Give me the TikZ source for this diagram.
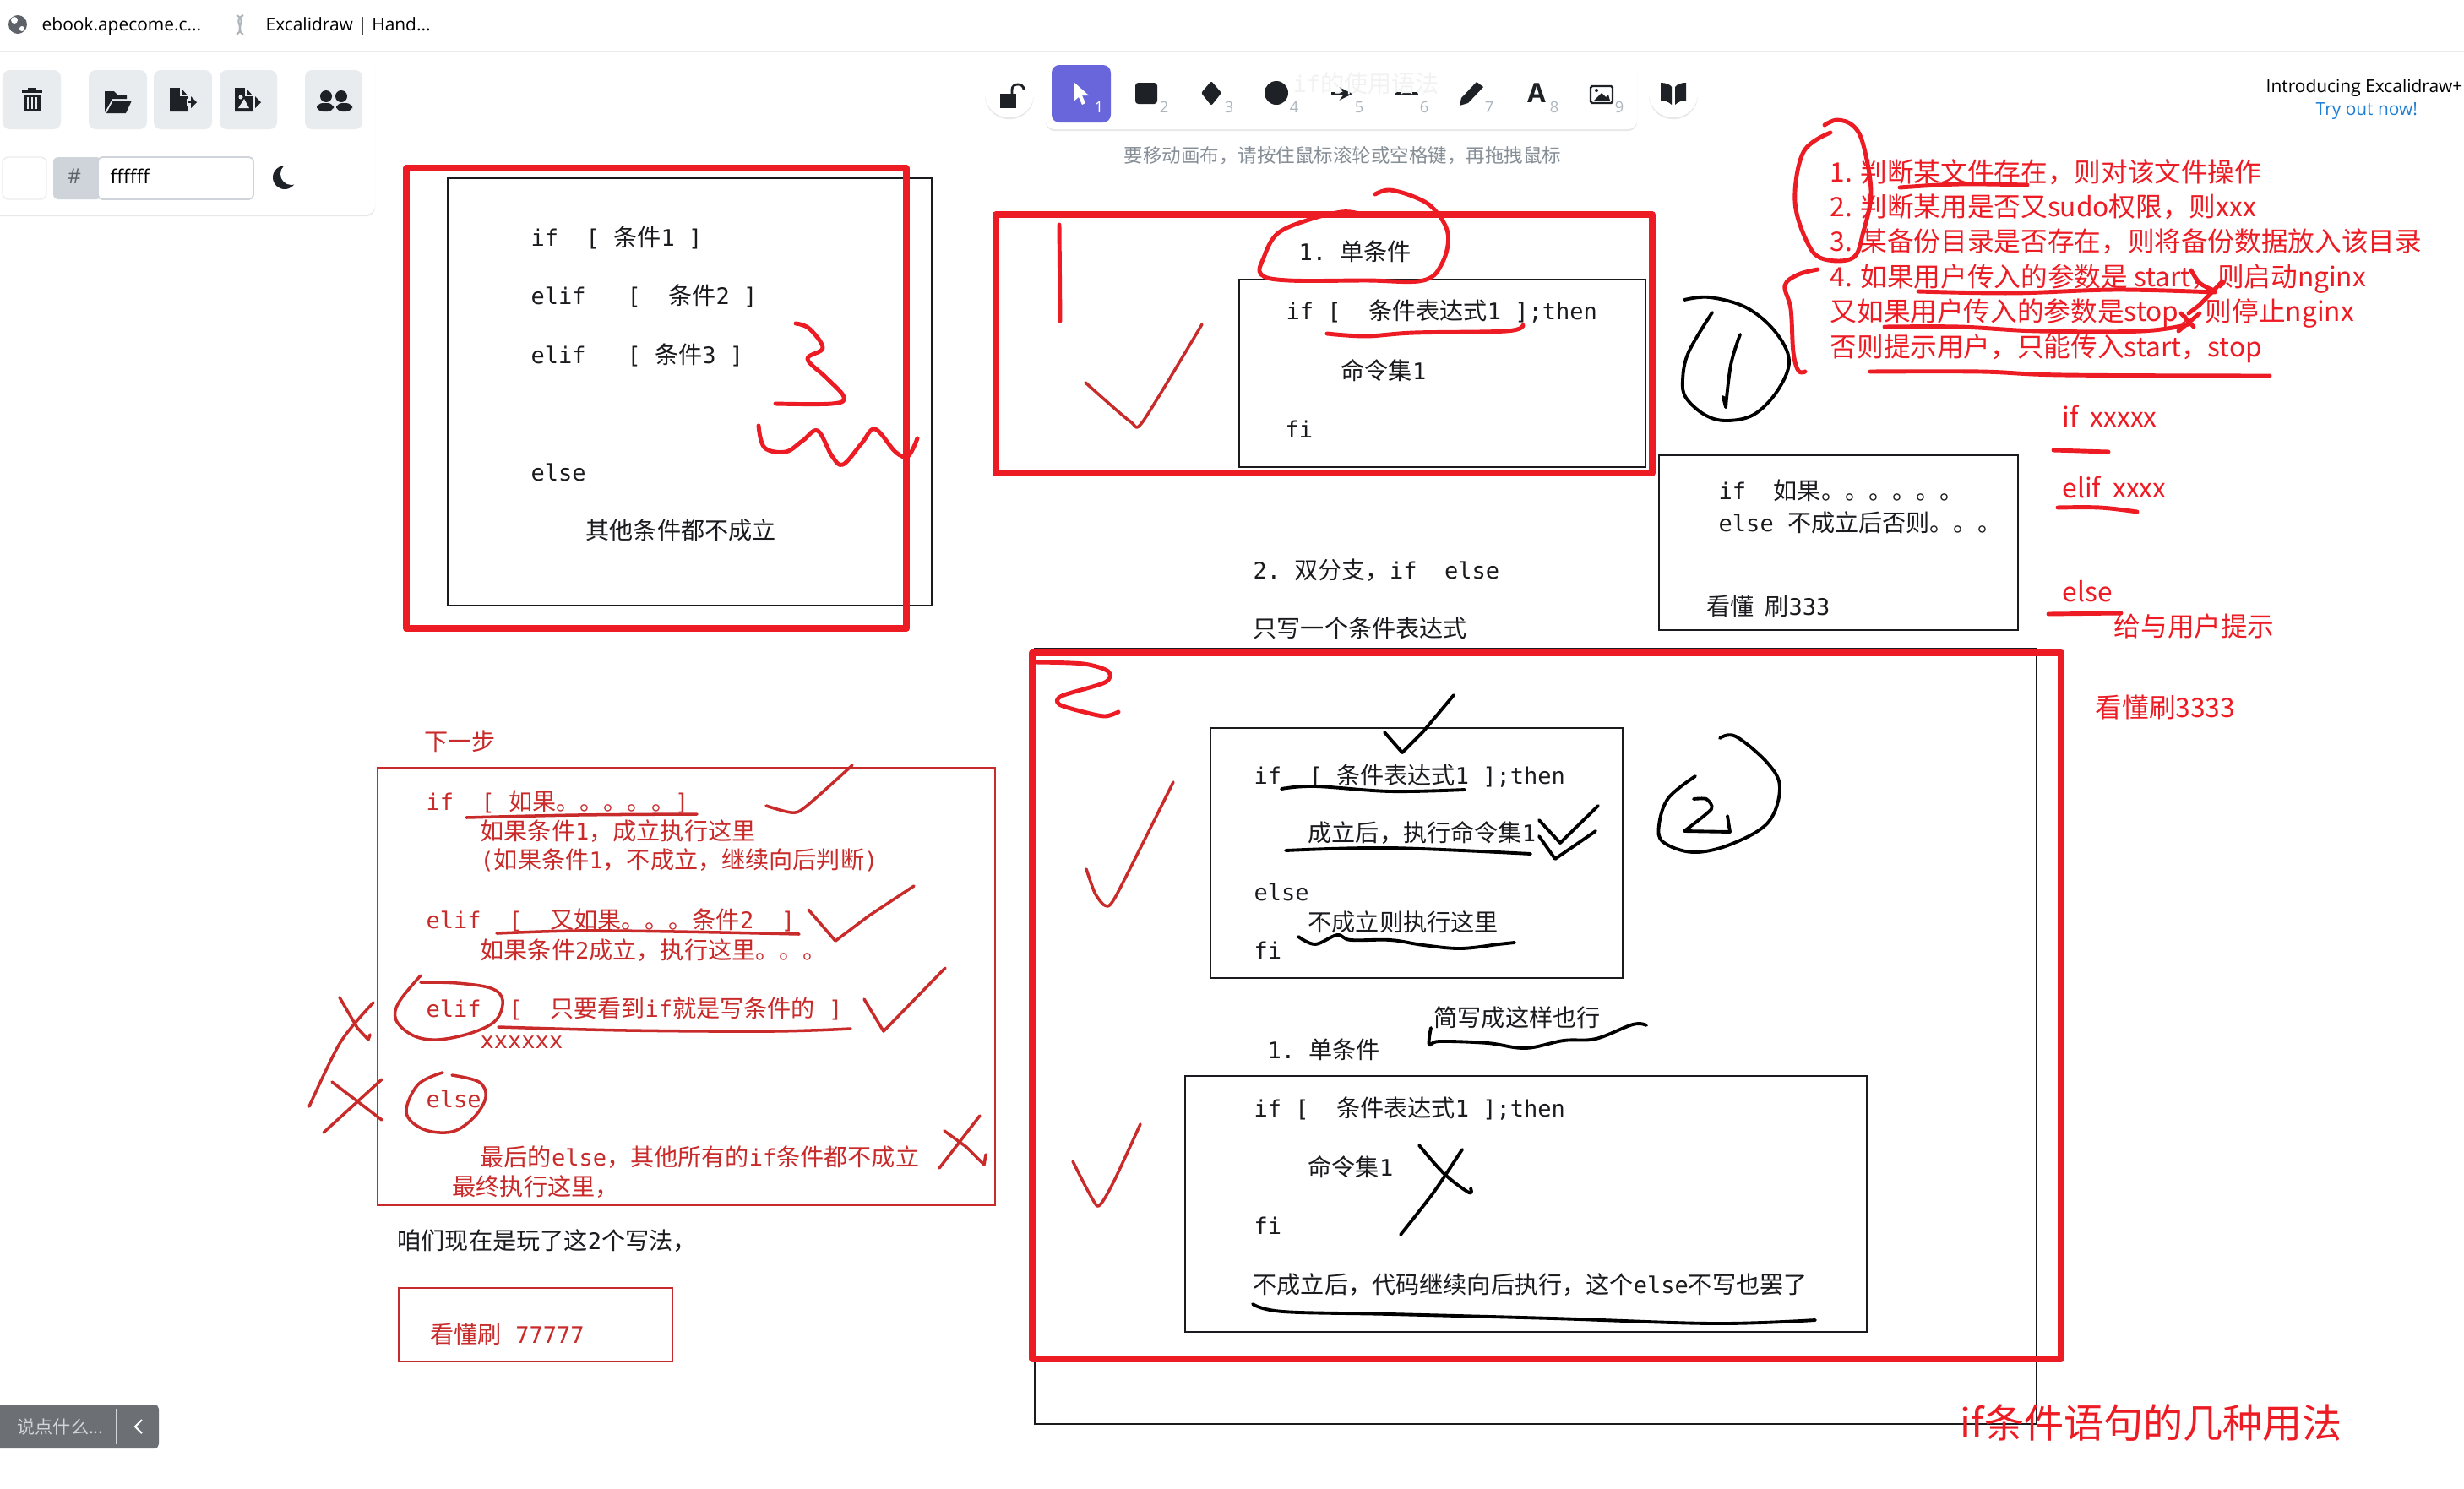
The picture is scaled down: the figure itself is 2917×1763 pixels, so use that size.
\documentclass[tikz,border=0pt]{standalone}
\usepackage{fontspec}
\setmainfont[Scale=0.96]{DejaVu Sans Mono}
\newfontfamily\cnfont{Noto Sans CJK SC}
\newfontfamily\uifont{Open Sans}
\newcommand{\cn}[1]{{\cnfont #1}}
\usetikzlibrary{shadows}
\definecolor{penred}{HTML}{ED1C24}
\definecolor{inkred}{HTML}{C92A2A}
\definecolor{inkdark}{HTML}{1B1B1F}
\definecolor{iconblack}{HTML}{1E2125}
\definecolor{toolgray}{HTML}{E9ECEF}
\definecolor{hashgray}{HTML}{CED4DA}
\definecolor{hintgray}{HTML}{868E96}
\definecolor{keygray}{HTML}{ADB5BD}
\definecolor{toolpurple}{HTML}{6965DB}
\definecolor{linkblue}{HTML}{1C7ED6}
\definecolor{chatgray}{HTML}{6C7075}
\tikzset{
  txt/.style={anchor=west,inner sep=0pt,text height=.68em,text depth=.05em,text=inkdark,font=\fontsize{8}{10}\selectfont},
  redtxt/.style={txt,text=inkred},
  listtxt/.style={anchor=west,inner sep=0pt,text height=.72em,text depth=.05em,text=penred,font=\fontsize{9}{11}\selectfont\cnfont},
  uitxt/.style={anchor=west,inner sep=0pt,text height=.62em,text depth=.2em,font=\fontsize{5.95}{7}\selectfont\uifont},
  keytxt/.style={inner sep=0pt,text=keygray,font=\fontsize{5.2}{6}\selectfont\uifont},
  bigbox/.style={draw=penred,line width=2.3pt,line join=round},
  sketchbox/.style={draw=inkdark,line width=.55pt},
  redbox/.style={draw=inkred,line width=.5pt},
  redpen/.style={draw=penred,line width=1.4pt,line cap=round,line join=round},
  redthin/.style={draw=inkred,line width=1pt,line cap=round,line join=round},
  blackpen/.style={draw=black,line width=1.1pt,line cap=round,line join=round},
  toolbtn/.style={fill=toolgray,rounded corners=2.4pt},
  panel/.style={fill=white,rounded corners=3pt,drop shadow={opacity=.18,shadow xshift=0pt,shadow yshift=-.6pt}},
  icon/.style={fill=iconblack,draw=none}
}
\begin{document}
\begin{tikzpicture}[x=0.01cm,y=-0.01cm]
    \useasboundingbox (0,0) rectangle (2917,1763);
    \fill[white] (0,0) rectangle (2917,1763);
    % Tab bar
    \draw[toolgray,line width=.7pt] (0,61) -- (2917,61);
    \fill[hintgray!70!black] (21,29) circle[radius=11];
    \fill[white] (17,24) circle[radius=4];
    \fill[white] (26,34) circle[radius=3];
    \node[uitxt] (tabone) at (49,29) {ebook.apecome.c...};
    \draw[keygray,line width=.6pt] (280,18) .. controls (294,26) and (276,32) .. (288,41);
    \draw[keygray,line width=.6pt] (288,18) .. controls (274,26) and (292,32) .. (280,41);
    \node[uitxt] (tabtwo) at (314,29) {Excalidraw | Hand...};
    % Left panel
    \path[panel] (-12,69) rectangle (444,254);
    \path[toolbtn] (3,83) rectangle (72,153);
    \path[toolbtn] (105,83) rectangle (174,153);
    \path[toolbtn] (182,83) rectangle (251,153);
    \path[toolbtn] (260,83) rectangle (328,153);
    \path[toolbtn] (361,83) rectangle (429,153);
    % Trash
    \path[icon] (26,106) rectangle (50,110);
    \path[icon] (33,104) rectangle (43,108);
    \path[icon] (28,112) rectangle (48,132);
    \draw[toolgray,line width=.3pt] (33,115) -- (33,129) (38,115) -- (38,129) (43,115) -- (43,129);
    % Folder
    \path[icon] (124,133) -- (124,108) -- (135,108) -- (139,112) -- (150,112) -- (150,117) -- (133,117) -- cycle;
    \path[icon] (126,134) -- (134,119) -- (156,119) -- (149,134) -- cycle;
    % Export
    \path[icon] (201,104) -- (214,104) -- (222,113) -- (222,132) -- (201,132) -- cycle;
    \draw[toolgray,line width=.4pt] (214,104) -- (214,113) -- (222,113);
    \draw[icon,draw=iconblack,line width=.7pt] (212,121) -- (228,121);
    \path[icon] (226,114) -- (233,121) -- (226,128) -- cycle;
    \draw[toolgray,line width=.4pt] (222,117) -- (222,125);
    % Export image
    \path[icon] (278,104) -- (291,104) -- (299,113) -- (299,132) -- (278,132) -- cycle;
    \draw[toolgray,line width=.4pt] (291,104) -- (291,113) -- (299,113);
    \fill[toolgray] (282,128) -- (289,117) -- (295,128) -- cycle;
    \fill[toolgray] (285,115) circle[radius=2.5];
    \path[icon] (302,114) -- (309,121) -- (302,128) -- cycle;
    % Users
    \path[icon] (386,114) circle[radius=7];
    \path[icon] (404,114) circle[radius=7];
    \path[icon,rounded corners=2pt] (375,132) rectangle (395,122);
    \path[icon,rounded corners=2pt] (398,132) rectangle (417,122);
    % Colour picker
    \draw[toolgray,fill=white,rounded corners=2pt,line width=.4pt] (3,186) rectangle (55,236);
    \path[fill=hashgray,rounded corners=1.5pt] (63,186) rectangle (120,236);
    \draw[hashgray,fill=white,rounded corners=1.5pt,line width=.5pt] (116,186) rectangle (300,236);
    \node[uitxt,text=hintgray!70!black,anchor=center,font=\fontsize{7}{8}\selectfont\uifont] (hash) at (88,210) {\#};
    \node[uitxt,font=\fontsize{6.5}{8}\selectfont\uifont] (hexval) at (130,210) {ffffff};
    \fill[iconblack] (337,210) circle[radius=14];
    \fill[white] (345,206) circle[radius=13];
    % Lock and toolbar
    \path[panel,rounded corners=8pt] (1166,81) rectangle (1224,139);
    \path[icon] (1184,111) rectangle (1203,128);
    \draw[iconblack,line width=.8pt] (1198,112) -- (1198,106) .. controls (1198,98) and (1212,98) .. (1212,106);
    \path[panel] (1238,69) rectangle (1938,153);
    \path[fill=toolpurple,rounded corners=2.6pt] (1245,77) rectangle (1315,145);
    \fill[white] (1271,97) -- (1271,120) -- (1277,115) -- (1281,124) -- (1285,122) -- (1281,113) -- (1289,113) -- cycle;
    \node[inner sep=0pt,text=white,font=\fontsize{5.2}{6}\selectfont\uifont] (keyone) at (1301,127) {1};
    \path[icon,rounded corners=1pt] (1344,98) rectangle (1370,123);
    \node[keytxt] (keytwo) at (1378,127) {2};
    \path[icon,rounded corners=.6pt] (1434,96) -- (1446,110) -- (1434,125) -- (1422,110) -- cycle;
    \node[keytxt] (keythree) at (1455,127) {3};
    \path[icon] (1511,110) circle[radius=14];
    \node[keytxt] (keyfour) at (1532,127) {4};
    \draw[iconblack,line width=.9pt,-stealth] (1576,111) -- (1601,111);
    \node[keytxt] (keyfive) at (1609,127) {5};
    \draw[iconblack,line width=1.1pt] (1651,111) -- (1679,111);
    \node[keytxt] (keysix) at (1686,127) {6};
    \path[icon] (1728,125) -- (1730,116) -- (1748,97) -- (1756,103) -- (1738,122) -- cycle;
    \node[keytxt] (keyseven) at (1763,127) {7};
    \node[inner sep=0pt,text=iconblack,font=\fontsize{9}{10}\selectfont\uifont\bfseries] (keyA) at (1819,110) {A};
    \node[keytxt] (keyeight) at (1840,127) {8};
    \draw[iconblack,line width=.7pt,rounded corners=.5pt] (1883,102) rectangle (1909,122);
    \fill[iconblack] (1887,119) -- (1896,110) -- (1901,115) -- (1904,112) -- (1906,119) -- cycle;
    \fill[iconblack] (1890,107) circle[radius=2];
    \node[keytxt] (keynine) at (1917,127) {9};
    \path[panel,rounded corners=8pt] (1952,81) rectangle (2010,139);
    \path[icon] (1966,98) .. controls (1972,98) and (1977,100) .. (1979,103) -- (1979,124) .. controls (1975,120) and (1970,119) .. (1966,119) -- cycle;
    \path[icon] (1996,98) .. controls (1990,98) and (1985,100) .. (1983,103) -- (1983,124) .. controls (1987,120) and (1992,119) .. (1996,119) -- cycle;
    \node[anchor=west,inner sep=0pt,text=black!5,font=\fontsize{8}{10}\selectfont] (ghost) at (1530,99) {if\cn{的使用语法}};
    \node[anchor=west,inner sep=0pt,text=hintgray,font=\fontsize{6.4}{8}\selectfont\cnfont] (hint) at (1330,184) {要移动画布，请按住鼠标滚轮或空格键，再拖拽鼠标};
    \node[uitxt] (introline) at (2682,102) {Introducing Excalidraw+};
    \node[uitxt,text=linkblue] (tryline) at (2741,129) {Try out now!};
    % Box three (upper left)
    \draw[sketchbox] (530,211) rectangle (1103,717);
    \node[txt] (threeif) at (628,281) {if~~[~\cn{条件}1~]};
    \node[txt] (threeelif) at (628,350) {elif~~~[~~\cn{条件}2~]};
    \node[txt] (threeelifb) at (628,420) {elif~~~[~\cn{条件}3~]};
    \node[txt] (threeelse) at (628,559) {else};
    \node[txt] (threerest) at (693,628) {\cn{其他条件都不成立}};
    \draw[bigbox] (481,199) rectangle (1073,744);
    \draw[redpen] plot[smooth,tension=.6] coordinates {(942,383) (958,389) (974,412) (956,425) (978,447) (999,470) (985,478) (918,478)};
    \draw[redpen] plot[smooth,tension=.6] coordinates {(898,504) (905,530) (930,535) (950,522) (968,510) (985,540) (998,550) (1020,525) (1036,508) (1060,535) (1075,540) (1086,519)};
    % Box one (single branch)
    \draw[sketchbox] (1467,331) rectangle (1948,553);
    \node[txt] (oneis) at (1537,298) {1.~\cn{单条件}};
    \node[txt] (oneif) at (1522,368) {if~[~~\cn{条件表达式}1~];then};
    \node[txt] (onecmd) at (1587,439) {\cn{命令集}1};
    \node[txt] (onefi) at (1521,508) {fi};
    \draw[bigbox] (1179,254) rectangle (1956,560);
    \draw[redpen] plot[smooth,tension=.6] coordinates {(1628,230) (1645,225) (1674,233) (1697,247) (1714,276) (1708,310) (1685,332) (1617,332) (1525,332) (1493,325) (1496,305) (1513,276) (1553,259) (1588,251) (1605,252)};
    \draw[redpen] plot[smooth,tension=.6] coordinates {(1571,395) (1617,398) (1674,394) (1783,392) (1803,385)};
    \draw[redpen] (1254,266) -- (1255,380);
    \draw[redthin] plot[smooth,tension=.4] coordinates {(1285,453) (1338,499) (1353,499) (1423,384)};
    % Two-branch notes
    \node[txt] (twois) at (1483,675) {2.~\cn{双分支，}if~~else};
    \node[txt] (twoone) at (1483,744) {\cn{只写一个条件表达式}};
    % Red list
    \node[listtxt] (lineone) at (2166,204) {1. 判断某文件存在，则对该文件操作};
    \node[listtxt] (linetwo) at (2166,245) {2. 判断某用是否又sudo权限，则xxx};
    \node[listtxt] (linethree) at (2166,286) {3. 某备份目录是否存在，则将备份数据放入该目录};
    \node[listtxt] (linefour) at (2166,328) {4. 如果用户传入的参数是 start，则启动nginx};
    \node[listtxt] (linefive) at (2166,369) {又如果用户传入的参数是stop，则停止nginx};
    \node[listtxt] (linesix) at (2166,411) {否则提示用户，只能传入start，stop};
    \draw[redpen] plot[smooth,tension=.6] coordinates {(2167,157) (2135,180) (2125,239) (2141,290) (2160,307) (2194,305) (2206,274) (2215,228) (2206,172) (2194,149) (2175,142) (2160,148)};
    \draw[redpen] plot[smooth,tension=.6] coordinates {(2249,222) (2320,218) (2400,219)};
    \draw[redpen] plot[smooth,tension=.6] coordinates {(2152,319) (2129,325) (2113,338) (2120,366) (2123,417) (2129,439) (2137,440)};
    \draw[redpen] plot[smooth,tension=.6] coordinates {(2271,345) (2382,347) (2505,343) (2622,346)};
    \draw[redpen] plot[smooth,tension=.6] coordinates {(2594,320) (2604,335) (2619,343)};
    \draw[redpen] (2631,333) -- (2604,361) -- (2591,371);
    \draw[redpen] plot[smooth,tension=.6] coordinates {(2231,387) (2320,387) (2413,392) (2536,392) (2591,384)};
    \draw[redpen] (2582,371) -- (2597,387);
    \draw[redpen] (2604,371) -- (2579,392);
    \draw[redpen] plot[smooth,tension=.6] coordinates {(2214,440) (2345,440) (2443,444) (2687,445)};
    % Hand-drawn one
    \draw[blackpen] plot[smooth,tension=.6] coordinates {(1994,355) (2024,352) (2067,364) (2101,392) (2118,427) (2104,463) (2076,491) (2043,498) (2018,491) (1996,471) (1992,450) (1999,417) (2027,370)};
    \draw[blackpen] plot[smooth,tension=.6] coordinates {(2060,396) (2049,432) (2043,482)};
    \draw[blackpen] (2043,482) -- (2040,470);
    % Short note box
    \draw[sketchbox] (1964,539) rectangle (2389,746);
    \node[txt] (noteif) at (2034,581) {if~~\cn{如果。。。。。。}};
    \node[txt] (noteelse) at (2034,619) {else~\cn{不成立后否则。。。}};
    \node[txt] (notedrill) at (2020,718) {\cn{看懂~~刷}333};
    % Red keywords
    \node[listtxt] (kwif) at (2441,494) {if~~xxxxx};
    \draw[redpen] (2431,533) -- (2496,535);
    \node[listtxt] (kwelif) at (2441,578) {elif~~xxxx};
    \draw[redpen] plot[smooth,tension=.6] coordinates {(2436,601) (2486,601) (2530,606)};
    \node[listtxt] (kwelse) at (2441,701) {else};
    \draw[redpen] (2425,727) -- (2511,726);
    \node[listtxt] (kwhint) at (2502,742) {给与用户提示};
    \node[listtxt] (kwdrill) at (2480,838) {看懂刷3333};
    % Outer frame two
    \draw[sketchbox] (1225,768) rectangle (2411,1686);
    \draw[bigbox] (1222,773) rectangle (2440,1609);
    \draw[redpen] plot[smooth,tension=.5] coordinates {(1226,784) (1283,786) (1312,795) (1308,808) (1257,824) (1254,834) (1283,843) (1308,848) (1324,843)};
    \draw[redthin] plot[smooth,tension=.4] coordinates {(1286,1029) (1296,1057) (1308,1072) (1321,1061) (1389,926)};
    \draw[redthin] plot[smooth,tension=.3] coordinates {(1270,1375) (1299,1428) (1318,1400) (1350,1331)};
    % Box if-else
    \draw[sketchbox] (1433,862) rectangle (1921,1158);
    \node[txt] (elseif) at (1484,918) {if~~[~\cn{条件表达式}1~];then};
    \node[txt] (elsecmd) at (1548,986) {\cn{成立后，执行命令集}1};
    \node[txt] (elseelse) at (1484,1056) {else};
    \node[txt] (elserun) at (1548,1092) {\cn{不成立则执行这里}};
    \node[txt] (elsefi) at (1484,1125) {fi};
    \draw[blackpen] (1639,867) -- (1660,891) -- (1685,866) -- (1721,823);
    \draw[blackpen] plot[smooth,tension=.6] coordinates {(1517,934) (1557,931) (1646,937) (1734,935)};
    \draw[blackpen] plot[smooth,tension=.6] coordinates {(1522,1007) (1646,1004) (1812,1011)};
    \draw[blackpen] (1822,971) -- (1847,998) -- (1892,954);
    \draw[blackpen] (1822,990) -- (1841,1017) -- (1889,984);
    \draw[blackpen] plot[smooth,tension=.6] coordinates {(1537,1109) (1557,1118) (1583,1107) (1599,1113) (1646,1113) (1685,1119) (1729,1123) (1774,1118) (1793,1116)};
    % Hand-drawn two
    \draw[blackpen] plot[smooth,tension=.6] coordinates {(2036,874) (2055,872) (2093,904) (2107,933) (2093,974) (2048,1000) (2004,1009) (1969,997) (1964,977) (1975,945) (2007,919)};
    \draw[blackpen] plot[smooth,tension=.4] coordinates {(2005,946) (2020,946) (2026,958) (1994,984)};
    \draw[blackpen] (1994,984) -- (2048,985) -- (2045,966);
    % Short form
    \node[txt] (shortis) at (1500,1243) {1.~\cn{单条件}};
    \node[txt] (shortnote) at (1697,1205) {\cn{简写成这样也行}};
    \draw[blackpen] plot[smooth,tension=.6] coordinates {(1694,1217) (1692,1237) (1704,1233) (1761,1235) (1806,1241) (1851,1232) (1889,1230) (1933,1213) (1949,1214)};
    \draw[sketchbox] (1403,1274) rectangle (2210,1577);
    \node[txt] (shortif) at (1484,1312) {if~[~~\cn{条件表达式}1~];then};
    \node[txt] (shortcmd) at (1548,1382) {\cn{命令集}1};
    \node[txt] (shortfi) at (1484,1451) {fi};
    \node[txt] (shortrest) at (1483,1521) {\cn{不成立后，代码继续向后执行，这个}else\cn{不写也罢了}};
    \draw[blackpen] plot[smooth,tension=.6] coordinates {(1680,1356) (1710,1390) (1739,1412) (1741,1407)};
    \draw[blackpen] plot[smooth,tension=.4] coordinates {(1731,1361) (1697,1412) (1658,1462)};
    \draw[blackpen] plot[smooth,tension=.6] coordinates {(1483,1544) (1519,1553) (1646,1556) (1838,1561) (2029,1567) (2149,1563)};
    \node[anchor=west,inner sep=0pt,text=penred,font=\fontsize{13.4}{15}\selectfont\cnfont] (usage) at (2320,1685) {if条件语句的几种用法};
    % Box of steps
    \node[redtxt] (nextstep) at (502,878) {\cn{下一步}};
    \draw[redbox] (447,909) rectangle (1178,1427);
    \node[redtxt] (stepif) at (504,949) {if~~[~\cn{如果。。。。。}]};
    \node[redtxt] (stepifa) at (568,984) {\cn{如果条件}1\cn{，成立执行这里}};
    \node[redtxt] (stepifb) at (568,1018) {(\cn{如果条件}1\cn{，不成立，继续向后判断})};
    \node[redtxt] (stepelif) at (504,1089) {elif~~[~~\cn{又如果。。。条件}2~~]};
    \node[redtxt] (stepelifa) at (568,1125) {\cn{如果条件}2\cn{成立，执行这里。。。}};
    \node[redtxt] (stepelifb) at (504,1194) {elif~~[~~\cn{只要看到}if\cn{就是写条件的}~]};
    \node[redtxt] (stepxs) at (568,1231) {xxxxxx};
    \node[redtxt] (stepelse) at (504,1301) {else};
    \node[redtxt] (steplast) at (568,1370) {\cn{最后的}else\cn{，其他所有的}if\cn{条件都不成立}};
    \node[redtxt] (steplastb) at (535,1405) {\cn{最终执行这里，}};
    \draw[redthin] plot[smooth,tension=.6] coordinates {(552,968) (684,965) (825,964)};
    \draw[redthin] plot[smooth,tension=.5] coordinates {(907,954) (937,962) (954,955) (1009,906)};
    \draw[redthin] plot[smooth,tension=.6] coordinates {(588,1105) (684,1102) (799,1103) (946,1106)};
    \draw[redthin] (957,1077) -- (989,1114) -- (1029,1084) -- (1082,1049);
    \draw[redthin] plot[smooth,tension=.6] coordinates {(498,1155) (472,1187) (469,1208) (489,1226) (518,1231) (558,1223) (587,1208) (595,1184) (581,1170) (541,1164) (498,1163)};
    \draw[redthin] plot[smooth,tension=.6] coordinates {(590,1216) (742,1220) (914,1221) (1007,1218)};
    \draw[redthin] (1023,1183) -- (1046,1221) -- (1119,1146);
    \draw[redthin] (402,1181) -- (423,1217) -- (436,1231) -- (438,1225);
    \draw[redthin] plot[smooth,tension=.5] coordinates {(442,1187) (403,1234) (366,1310)};
    \draw[redthin] (393,1281) -- (452,1326);
    \draw[redthin] (452,1278) -- (383,1341);
    \draw[redthin] plot[smooth,tension=.6] coordinates {(524,1270) (495,1284) (481,1317) (501,1337) (535,1340) (561,1323) (575,1299) (567,1281) (535,1273)};
    \draw[redthin] (1118,1339) -- (1144,1358) -- (1165,1379) -- (1167,1367);
    \draw[redthin] (1160,1321) -- (1112,1383);
    % Below the steps
    \node[txt] (playnote) at (470,1469) {\cn{咱们现在是玩了这}2\cn{个写法，}};
    \draw[redbox] (472,1525) rectangle (796,1612);
    \node[redtxt] (drillseven) at (509,1580) {\cn{看懂刷}~77777};
    % Chat button
    \path[fill=chatgray,rounded corners=1.5pt] (-12,1663) rectangle (188,1715);
    \draw[white!70!chatgray,line width=.3pt] (138,1668) -- (138,1710);
    \node[anchor=west,inner sep=0pt,text=white!70!chatgray,font=\fontsize{6}{7}\selectfont\cnfont] (chat) at (20,1689) {说点什么...};
    \draw[white,line width=.6pt] (168,1681) -- (160,1689) -- (168,1697);
\end{tikzpicture}
\end{document}
